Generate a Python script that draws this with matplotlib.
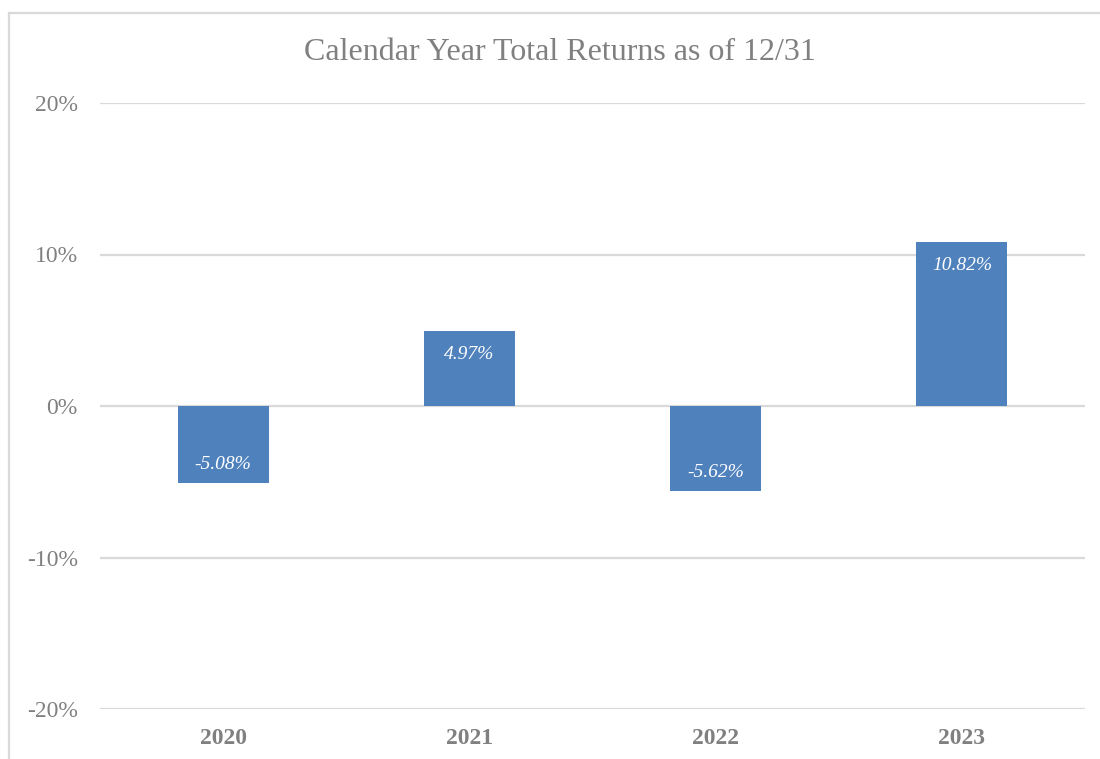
import matplotlib
matplotlib.use("Agg")
import matplotlib.pyplot as plt
from matplotlib.lines import Line2D

years = ["2020", "2021", "2022", "2023"]
returns = [-5.08, 4.97, -5.62, 10.82]
yticks = [-20, -10, 0, 10, 20]
title = "Calendar Year Total Returns as of 12/31"

W, H = 1100, 759
fig = plt.figure(figsize=(W / 100, H / 100), dpi=100)
plt.rcParams['font.family'] = ['Liberation Serif', 'DejaVu Serif']

gray_text = "#808080"
grid_c = "#D9D9D9"
bar_c = "#4F81BD"

# outer chart border (left and top visible)
fig.lines.append(Line2D([9 / W, 9 / W], [0, 1 - 13 / H], transform=fig.transFigure,
                        color=grid_c, linewidth=1.6))
fig.lines.append(Line2D([9 / W, 1.0], [1 - 13 / H, 1 - 13 / H], transform=fig.transFigure,
                        color=grid_c, linewidth=1.6))

ax = fig.add_axes([100 / W, 1 - 709 / H, 985 / W, (709 - 103) / H])
x = list(range(len(years)))
bars = ax.bar(x, returns, width=0.37, color=bar_c, zorder=3)
ax.set_xlim(-0.5, len(years) - 0.5)
ax.set_ylim(-20, 20)
ax.set_yticks(yticks)
ax.set_yticklabels([f"{t}%" for t in yticks], fontsize=17, color=gray_text)
ax.set_xticks(x)
ax.set_xticklabels(years, fontsize=17, color=gray_text, fontweight="bold")
ax.tick_params(axis="y", length=0, pad=16)
ax.tick_params(axis="x", length=0, pad=14)
for s in ax.spines.values():
    s.set_visible(False)
ax.yaxis.grid(True, color=grid_c, linewidth=1.6, zorder=0)
ax.set_axisbelow(True)

for xi, v in zip(x, returns):
    off = -17 if v >= 0 else 13.5
    ax.annotate(f"{v:.2f}%", (xi, v), xytext=(0, off), textcoords="offset points",
                ha="center", va="center", color="white", fontsize=14, fontstyle="italic", zorder=4)

fig.text(0.5 + 10 / W, 1 - 53 / H, title, ha="center", va="center", fontsize=23, color=gray_text)

fig.savefig("out.png", dpi=100)
